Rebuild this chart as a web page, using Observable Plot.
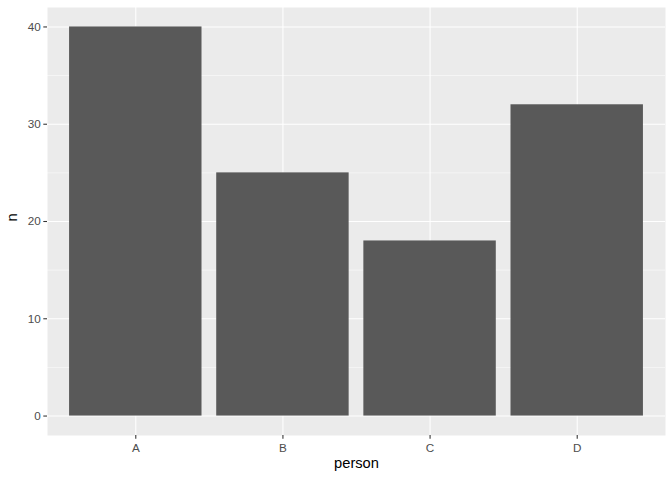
<!DOCTYPE html>
<html>
<head>
<meta charset="utf-8">
<script src="https://cdn.jsdelivr.net/npm/d3@7"></script>
<script src="https://cdn.jsdelivr.net/npm/@observablehq/plot@0.6"></script>
<style>
  html, body { margin: 0; padding: 0; background: #fff; }
  svg { display: block; }
</style>
</head>
<body>
<div id="chart"></div>
<script>
const persons = ["A", "B", "C", "D"];
const counts = [40, 25, 18, 32];
const majorTicks = [0, 10, 20, 30, 40];
const minorTicks = [5, 15, 25, 35];
const xTitle = "person";
const yTitle = "n";

const data = persons.map((p, i) => ({person: p, n: counts[i]}));

const chart = Plot.plot({
  width: 672,
  height: 480,
  marginLeft: 47,
  marginRight: 7,
  marginTop: 7,
  marginBottom: 45,
  style: {fontFamily: "'Liberation Sans', Arial, sans-serif", background: "#fff"},
  x: {domain: persons, paddingInner: 0.1, paddingOuter: 0.15, align: 0.5, round: false, label: null},
  y: {domain: [-2, 42], label: null},
  marks: [
    Plot.frame({fill: "#EBEBEB", stroke: null}),
    Plot.ruleY(minorTicks, {stroke: "#fff", strokeWidth: 0.53}),
    Plot.ruleY(majorTicks, {stroke: "#fff", strokeWidth: 1.07}),
    Plot.ruleX(persons, {x: d => d, stroke: "#fff", strokeWidth: 1.07}),
    Plot.barY(data, {x: "person", y1: 0, y2: "n", fill: "#595959"}),
    Plot.axisY(majorTicks, {tickSize: 3.7, tickPadding: 3, stroke: "#333", strokeWidth: 1.07, fill: "#4D4D4D", fontSize: 11.7, label: null}),
    Plot.axisX(persons, {tickSize: 3.7, tickPadding: 4, stroke: "#333", strokeWidth: 1.07, fill: "#4D4D4D", fontSize: 11.7, label: null}),
    Plot.text([xTitle], {frameAnchor: "bottom", dy: 27.3, fontSize: 14.7, fill: "#000", lineAnchor: "middle", text: d => d}),
    Plot.text([yTitle], {frameAnchor: "left", dx: -35.5, rotate: -90, fontSize: 14.7, fill: "#000", lineAnchor: "middle", text: d => d})
  ]
});

document.getElementById("chart").appendChild(chart);
</script>
</body>
</html>
